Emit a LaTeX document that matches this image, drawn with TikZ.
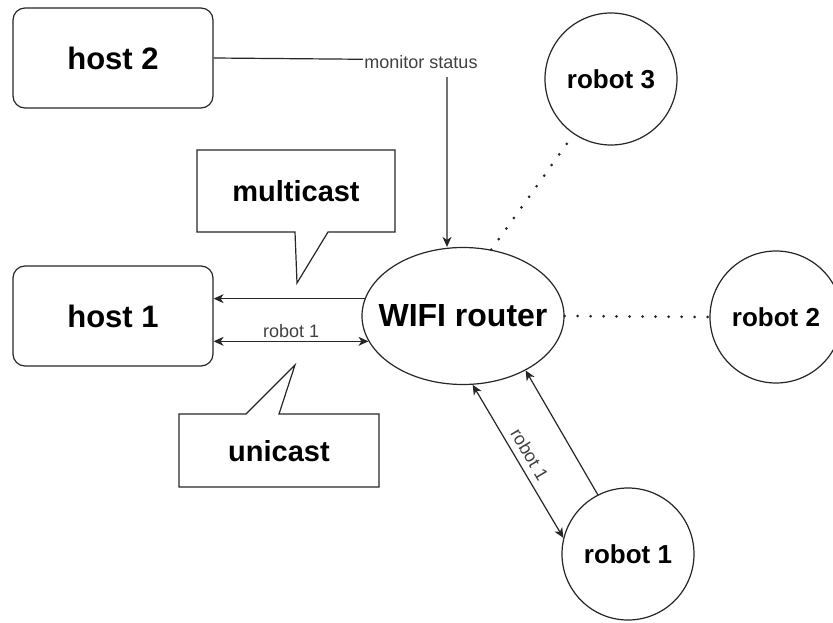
\documentclass[tikz,border=0pt]{standalone}
\usepackage{fontspec}
\setmainfont{Liberation Sans}
\usetikzlibrary{arrows.meta}
\usetikzlibrary{calc}
\usetikzlibrary{shapes.geometric}
\usetikzlibrary{positioning}

\begin{document}
\begin{tikzpicture}[
  x=1pt, y=-1pt, line width=1.2pt, draw=black!85,
  > = {Stealth[length=10pt,width=9pt,inset=3pt]},
  host/.style = {draw,rounded corners=12pt,minimum width=200pt,minimum height=100pt,font=\fontsize{31}{36}\selectfont\bfseries},
  robot/.style = {draw,circle,minimum size=132pt,inner sep=0pt,font=\fontsize{26}{30}\selectfont\bfseries},
  router/.style = {draw,ellipse,minimum width=202pt,minimum height=137pt,inner ysep=0pt,inner xsep=-30pt,font=\fontsize{32}{38}\selectfont\bfseries},
  note/.style = {font=\fontsize{18}{22}\selectfont,text=black!75},
  callout/.style = {font=\fontsize{29}{34}\selectfont\bfseries},
  wifi/.style = {line width=3pt,line cap=round,dash pattern=on 0pt off 13pt}
  ]
	\useasboundingbox (0,0) rectangle (833,623);

	\node[host] (host2) at (113,58) {host 2};
	\node[host] (host1) at (113,316) {host 1};
	\node[router] (router) at (463,316) {WIFI router};
	\node[robot] (robot3) at (611,79) {robot 3};
	\node[robot] (robot2) at (776,317) {robot 2};
	\node[robot] (robot1) at (628,554) {robot 1};

	% speech bubbles
	\draw (197,150) -- (395,150) -- (395,232) -- (328,232) -- (297,283) -- (295,232) -- (197,232) -- cycle;
	\node[callout] (multi) at (296,191) {multicast};
	\draw (179,414) -- (246,414) -- (295,365) -- (279,414) -- (379,414) -- (379,487) -- (179,487) -- cycle;
	\node[callout] (uni) at (279,451) {unicast};

	% monitoring link
	\coordinate (bend) at (447,60);
	\draw[->] (host2.east) -- (bend) -- (bend |- router.north);
	\node[note,fill=white,inner xsep=1pt,inner ysep=8pt] (status) at (421,62) {monitor status};

	% host 1 links
	\draw[->] (router.170) -- (host1.east |- router.170);
	\draw[<->] (host1.east |- router.195) -- node[note,above] {robot 1} (router.195);

	% robot 1 links
	\draw[<->] (router.278) -- node[note,sloped,above=3pt] {robot 1} (robot1.166);
	\draw[->] (robot1.117) -- (router.319);

	% wireless
	\draw[wifi] (router.67) -- (robot3.236);
	\draw[wifi] (router.east) -- (robot2.west);

\end{tikzpicture}
\end{document}
